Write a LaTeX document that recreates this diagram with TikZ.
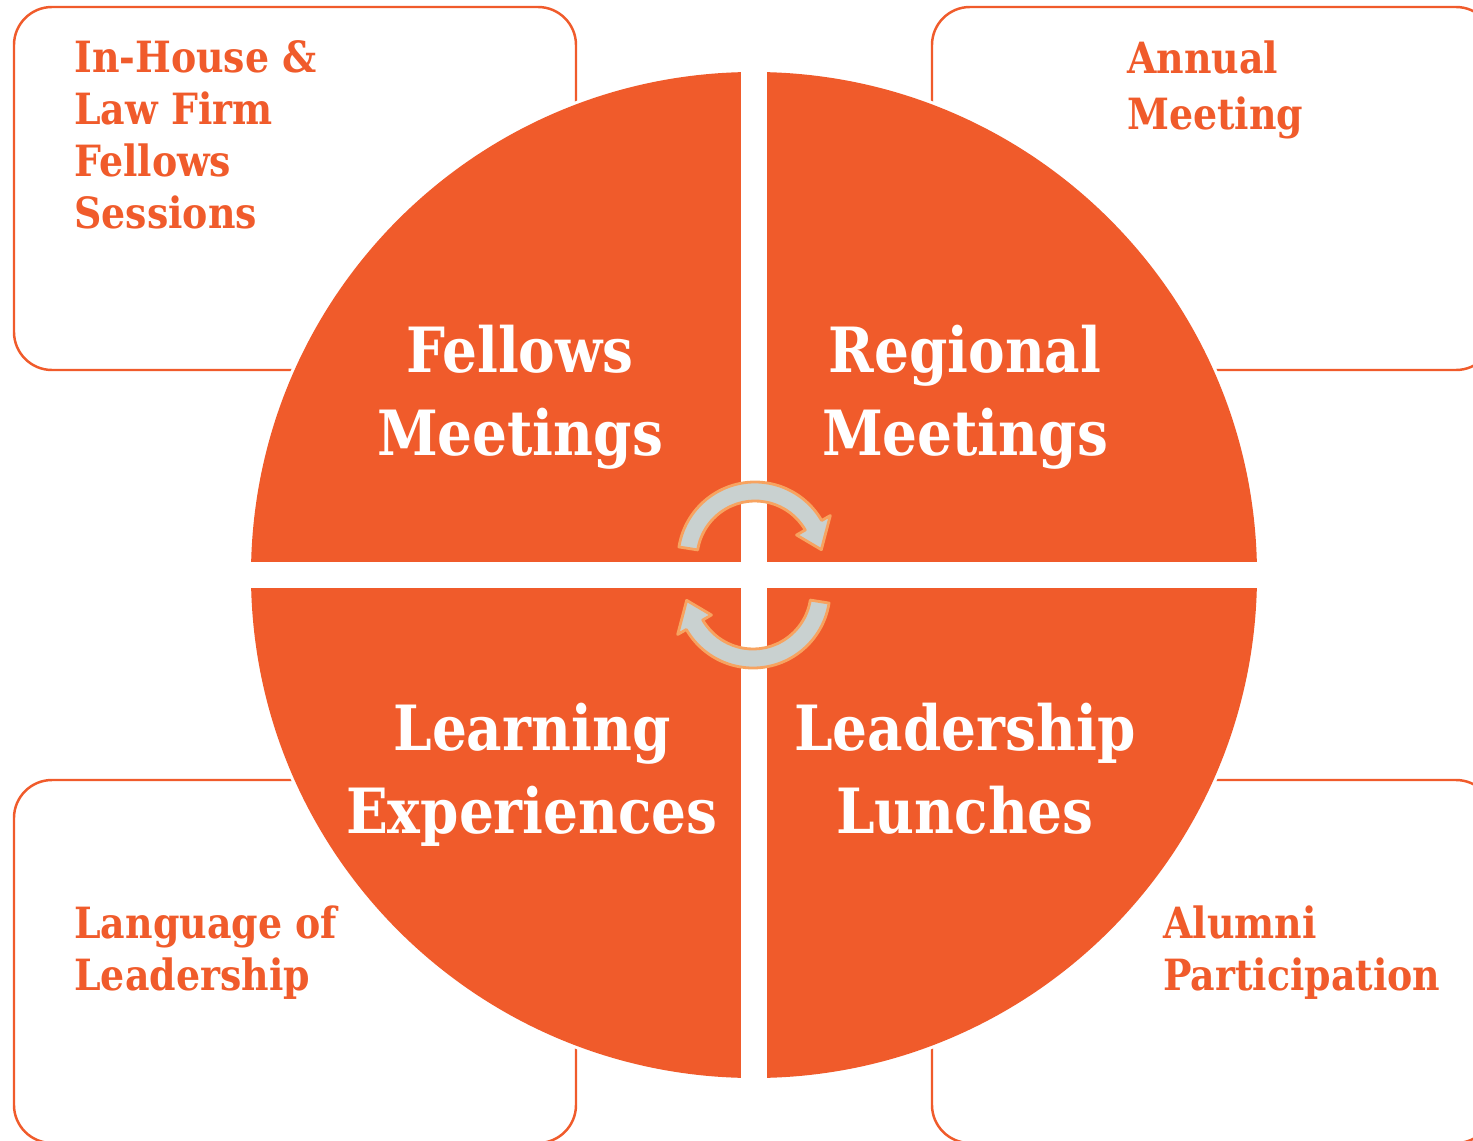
\documentclass[tikz,border=0pt]{standalone}
\usepackage{fontspec}
\setmainfont{DejaVu Serif}[FakeStretch=0.88]
\usepackage{tikz}
\usetikzlibrary{calc}

\definecolor{fiorange}{RGB}{240,91,43}
\definecolor{fipeach}{RGB}{247,163,96}
\definecolor{figrey}{RGB}{201,209,208}

\begin{document}
\begin{tikzpicture}[x=0.02cm, y=0.02cm,
    sidebox/.style={draw=fiorange, line width=1.4pt, fill=white, rounded corners=0.76cm},
    sidetext/.style={anchor=base west, inner sep=0pt, align=left, text=fiorange,
        font=\bfseries\fontsize{24.5}{29.6}\selectfont},
    bigtext/.style={anchor=base, inner sep=0pt, align=center, text=white,
        font=\bfseries\fontsize{35.5}{47.2}\selectfont},
    cyclearrow/.style={fill=figrey, draw=fipeach, line width=1.6pt, line join=round}]
    \useasboundingbox (-754, -565) rectangle (719, 575); % page
    \draw[sidebox] (-740, 205) rectangle (-178, 568);
    \draw[sidebox] (178, 205) rectangle (740, 568);
    \draw[sidebox] (-740, -205) rectangle (-178, -568);
    \draw[sidebox] (178, -205) rectangle (740, -568);
    \draw[white, line width=3.5pt] (0, 0) circle (503);
    \begin{scope}
        \clip (0, 0) circle (503);
        \fill[fiorange] (13, 13) rectangle (520, 520);
        \fill[fiorange] (-13, 13) rectangle (-520, 520);
        \fill[fiorange] (-13, -13) rectangle (-520, -520);
        \fill[fiorange] (13, -13) rectangle (520, -520);
    \end{scope}
    \foreach \r in {0, 180} {
        \begin{scope}[rotate=\r, shift={(1, 16)}]
            \draw[cyclearrow] (171:77) arc[start angle=171, end angle=30, radius=77]
                -- (30:87) -- (8:67) -- (30:48) -- (30:58)
                arc[start angle=30, end angle=171, radius=58] -- cycle;
        \end{scope}
    }
    \node[bigtext] (fellows) at (-234, 120) {Fellows\\Meetings};
    \node[bigtext] (regional) at (211, 120) {Regional\\Meetings};
    \node[bigtext] (learning) at (-222, -258) {Learning\\Experiences};
    \node[bigtext] (leadership) at (211, -258) {Leadership\\Lunches};
    \node[sidetext] (inhouse) at (-680, 346) {In-House \&\\Law Firm\\Fellows\\Sessions};
    \node[sidetext, font=\bfseries\fontsize{24.5}{32.4}\selectfont] (annual) at (373, 445) {Annual\\Meeting};
    \node[sidetext] (language) at (-680, -415) {Language of\\Leadership};
    \node[sidetext] (alumni) at (409, -415) {Alumni\\Participation};
\end{tikzpicture}
\end{document}
